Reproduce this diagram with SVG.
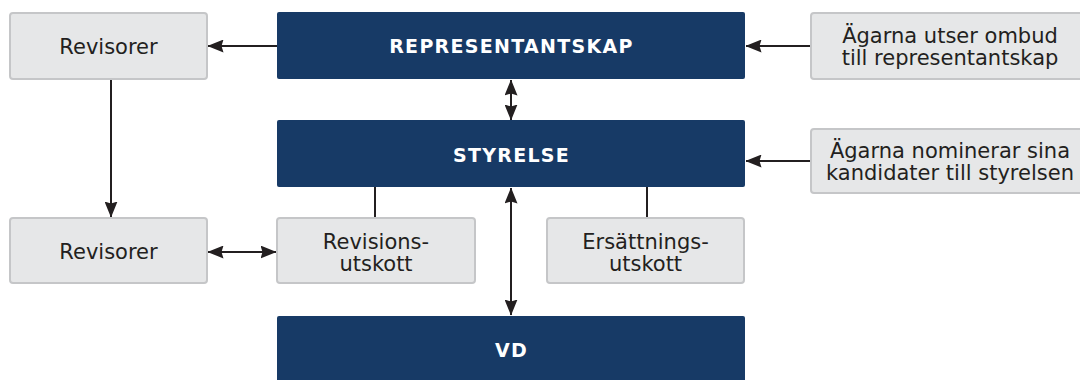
<svg xmlns="http://www.w3.org/2000/svg" width="1080" height="380" viewBox="0 0 1080 380">
<defs>
<marker id="ah" viewBox="0 0 16 13" markerWidth="16" markerHeight="13" refX="15.5" refY="6.5" orient="auto-start-reverse" markerUnits="userSpaceOnUse">
<path d="M0,0 L16,6.5 L0,13 L2,6.5 z" fill="#231f20"/>
</marker>
<style>
.g{fill:#e6e7e8;stroke:#c5c6c8;stroke-width:2}
.n{fill:#173a66}
.t{font-family:"DejaVu Sans","Liberation Sans",sans-serif;font-size:21px;fill:#231f20;text-anchor:middle}
.b{font-family:"DejaVu Sans","Liberation Sans",sans-serif;font-size:19px;font-weight:bold;fill:#fff;text-anchor:middle;letter-spacing:1.3px}
.c{stroke:#231f20;stroke-width:2;fill:none}
</style>
</defs>
<rect width="1080" height="380" fill="#fff"/>
<g id="connectors">
<line class="c" x1="277" y1="46" x2="208" y2="46" marker-end="url(#ah)"/>
<line class="c" x1="811" y1="46" x2="746" y2="46" marker-end="url(#ah)"/>
<line class="c" x1="811" y1="161" x2="746" y2="161" marker-end="url(#ah)"/>
<line class="c" x1="511" y1="80" x2="511" y2="120" marker-start="url(#ah)" marker-end="url(#ah)"/>
<line class="c" x1="111" y1="79" x2="111" y2="217" marker-end="url(#ah)"/>
<line class="c" x1="208" y1="252" x2="276" y2="252" marker-start="url(#ah)" marker-end="url(#ah)"/>
<line class="c" x1="511" y1="188" x2="511" y2="315" marker-start="url(#ah)" marker-end="url(#ah)"/>
<line class="c" x1="375" y1="187" x2="375" y2="218"/>
<line class="c" x1="647" y1="187" x2="647" y2="218"/>
</g>
<g id="revisorer1">
<rect class="g" x="10" y="13" width="197" height="66" rx="3"/>
<text class="t" x="108.5" y="54">Revisorer</text>
</g>
<g id="representantskap">
<rect class="n" x="277" y="12" width="468" height="67" rx="2"/>
<text class="b" x="511.5" y="53">REPRESENTANTSKAP</text>
</g>
<g id="agarna-ombud">
<rect class="g" x="811" y="13" width="280" height="66" rx="3"/>
<text class="t" x="950" y="43">Ägarna utser ombud</text>
<text class="t" x="950" y="65">till representantskap</text>
</g>
<g id="styrelse">
<rect class="n" x="277" y="120" width="468" height="67" rx="2"/>
<text class="b" x="511.5" y="162">STYRELSE</text>
</g>
<g id="agarna-nominerar">
<rect class="g" x="811" y="129" width="280" height="64" rx="3"/>
<text class="t" x="950" y="158">Ägarna nominerar sina</text>
<text class="t" x="950" y="180">kandidater till styrelsen</text>
</g>
<g id="revisorer2">
<rect class="g" x="10" y="218" width="197" height="65" rx="3"/>
<text class="t" x="108.5" y="259">Revisorer</text>
</g>
<g id="revisionsutskott">
<rect class="g" x="277" y="218" width="198" height="65" rx="3"/>
<text class="t" x="376" y="249">Revisions-</text>
<text class="t" x="376" y="271">utskott</text>
</g>
<g id="ersattningsutskott">
<rect class="g" x="547" y="218" width="197" height="65" rx="3"/>
<text class="t" x="645.5" y="249">Ersättnings-</text>
<text class="t" x="645.5" y="271">utskott</text>
</g>
<g id="vd">
<rect class="n" x="277" y="316" width="468" height="70" rx="2"/>
<text class="b" x="511.5" y="357">VD</text>
</g>
</svg>
